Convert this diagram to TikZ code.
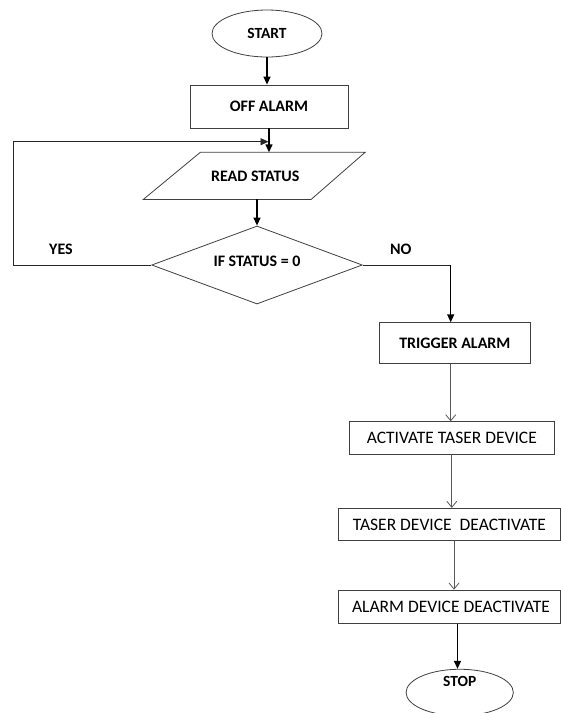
\documentclass[tikz,border=0pt]{standalone}
\usepackage{fontspec}
\setmainfont{Carlito}
\usetikzlibrary{shapes.geometric,arrows.meta}
\begin{document}
\begin{tikzpicture}[x=1pt,y=-1pt,
  bx/.style={draw=black!75, line width=0.8pt, inner sep=0pt, font=\bfseries\fontsize{16}{19}\selectfont},
  lbx/.style={draw=black!75, line width=0.8pt, inner sep=0pt, font=\fontsize{17.5}{21}\selectfont},
  term/.style={ellipse, draw=black!75, line width=0.8pt, inner sep=0pt, font=\bfseries\fontsize{15.5}{18}\selectfont},
  arr/.style={-{Triangle[length=8pt,width=7pt]}, line width=1.4pt},
  thinarr/.style={-{Triangle[length=8pt,width=7pt]}, line width=0.9pt, draw=black!85},
  garr/.style={-{Straight Barb[length=6pt,width=10pt]}, line width=0.8pt, draw=black!65},
  lbl/.style={font=\bfseries\fontsize{16}{19}\selectfont}
]
\fill[white] (0,0) rectangle (561,713);
\useasboundingbox (0,0) rectangle (561,713);

% nodes
\node[term, minimum width=110pt, minimum height=47pt] (start) at (267,33.5) {START\hspace{6pt}};
\node[bx, minimum width=158pt, minimum height=43pt] (off) at (269,106.5) {OFF ALARM\hspace{19pt}};
\node[bx, draw=none, minimum width=165pt, minimum height=46.3pt] (read) at (255.25,175.85) {READ STATUS\hspace{15pt}};
\draw[black!75, line width=0.8pt] ([xshift=28pt]read.north west) -- ([xshift=27pt]read.north east)
  -- ([xshift=-27pt]read.south east) -- ([xshift=-29pt]read.south west) -- cycle;
\node[diamond, aspect=2.7, draw=black!75, line width=0.8pt, inner sep=0pt,
  minimum width=210.6pt, minimum height=78pt, font=\bfseries\fontsize{16}{19}\selectfont]
  (dec) at (257,265) {\raisebox{8pt}{IF STATUS = 0}};
\node[lbl] (yes) at (61,249.3) {YES};
\node[lbl] (no) at (400.8,249) {NO};
\node[bx, minimum width=151.7pt, minimum height=40.6pt] (trig) at (454.85,343) {TRIGGER ALARM\hspace{18pt}};
\node[lbx, minimum width=205pt, minimum height=32.3pt] (act) at (451.8,437.85) {ACTIVATE TASER DEVICE\hspace{9.6pt}};
\node[lbx, minimum width=222.4pt, minimum height=32.4pt] (tdd) at (449.5,524.5) {TASER DEVICE\ \ DEACTIVATE\hspace{4pt}};
\node[lbx, minimum width=221.5pt, minimum height=33.3pt] (add) at (449.5,606.65) {\hspace{3pt}ALARM DEVICE DEACTIVATE};
\node[term, minimum width=107.3pt, minimum height=46.5pt] (stop) at (459.7,692.5) {\raisebox{21.6pt}{STOP}};

% coordinates
\coordinate (loopcorner) at (13.3,265);
\coordinate (looptip) at (268.5,141.7);
\coordinate (nocorner) at (450.7,265);

% connectors
\draw[arr] (start.south) -- (start.south |- off.north);
\draw[arr] (off.south) -- (off.south |- read.north);
\draw[thinarr] (dec.west) -- (loopcorner) |- (looptip);
\draw[arr] (dec.north |- read.south) -- (dec.north);
\draw[black!85, line width=0.9pt] (dec.east) -- (nocorner);
\draw[arr] (nocorner) -- (nocorner |- trig.north);
\draw[garr] (nocorner |- trig.south) -- (nocorner |- act.north);
\draw[garr] (act.south) -- (act.south |- tdd.north);
\draw[garr] ([xshift=4.5pt]tdd.south) -- ([xshift=4.5pt]tdd.south |- add.north);
\draw[arr] ([xshift=8pt]add.south) -- ([xshift=8pt]add.south |- stop.north);
\end{tikzpicture}
\end{document}
